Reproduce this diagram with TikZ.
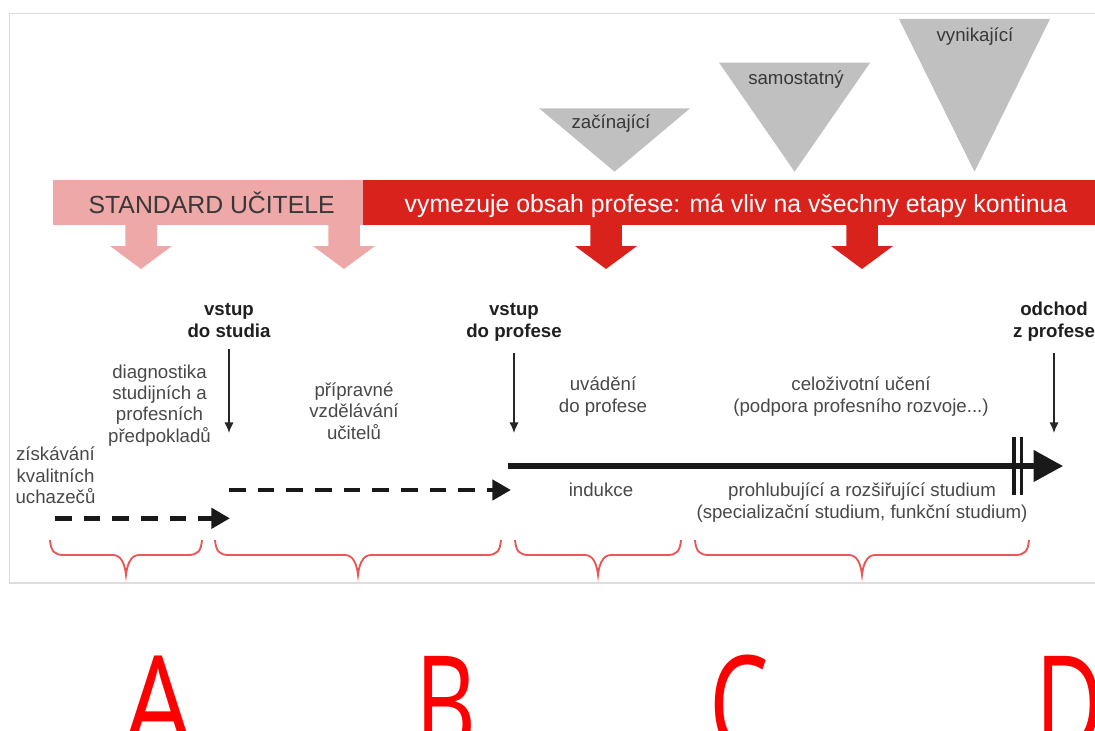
\documentclass[tikz,border=0pt]{standalone}
\usepackage{fontspec}
\setmainfont{Liberation Sans}
\newfontfamily\letterfont{Open Sans}
\usetikzlibrary{arrows.meta,positioning}

\definecolor{pinkbar}{RGB}{238,168,168}
\definecolor{redbar}{RGB}{218,34,29}
\definecolor{trigray}{RGB}{192,192,192}
\definecolor{txtgray}{RGB}{72,72,72}
\definecolor{bracered}{RGB}{232,88,88}
\definecolor{framegray}{RGB}{222,222,222}
\definecolor{lettered}{RGB}{255,0,0}

\begin{document}
\begin{tikzpicture}[
    x=0.75pt, y=-0.75pt,
    lbl/.style={font=\fontsize{14}{16}\selectfont, text=txtgray, align=center, inner sep=0pt, anchor=base},
    milestone/.style={font=\fontsize{14}{16}\selectfont\bfseries, text=black!88, align=center, inner sep=0pt, anchor=base},
    lvl/.style={font=\fontsize{14}{16}\selectfont, text=black!78, inner sep=0pt, anchor=base},
    bartext/.style={font=\fontsize{18.6}{20}\selectfont, inner sep=0pt, anchor=base},
    letter/.style={font=\letterfont\fontsize{101}{101}\selectfont, text=lettered, inner sep=0pt, anchor=base},
    pointer/.style={-{Latex[length=8pt,width=7pt]}, line width=1.1pt, draw=black!85, shorten <=9pt},
    dasharrow/.style={-{Triangle[length=14pt,width=15pt]}, line width=3.6pt, draw=black!90, dash pattern=on 12.5pt off 9pt},
    mainarrow/.style={-{Triangle[length=22pt,width=23pt]}, line width=3.8pt, draw=black!90},
    brc/.style={draw=bracered, line width=1.4pt}
]
\useasboundingbox (0,0) rectangle (1095,731);

% frame
\draw[framegray, line width=1.2pt] (1100,13.5) -- (9.5,13.5) -- (9.5,583) -- (1100,583);

% standard bar
\fill[pinkbar] (53,180) rectangle (362.5,224.5);
\fill[redbar] (362.5,180) rectangle (1095,224.5);
\node[bartext, text=black!78] (std) at (211.7,213) {STANDARD UČITELE};
\node[bartext, text=white] (content) at (736,212.5) {vymezuje obsah profese: má vliv na všechny etapy kontinua};

\foreach \x/\c in {141/pinkbar, 344/pinkbar, 606/redbar, 862/redbar}
  \fill[\c] (\x-15.75,224) -- (\x+15.75,224) -- (\x+15.75,246) -- (\x+31,246)
    -- (\x,269) -- (\x-31,246) -- (\x-15.75,246) -- cycle;

% levels
\foreach \cx/\top in {614.6/108.3, 794.6/62.7, 974.5/19}
  \fill[trigray] (\cx-75.5,\top) -- (\cx+75.5,\top) -- (\cx,171.7) -- cycle;
\node[lvl] (zac) at (611,128.3) {začínající};
\node[lvl] (sam) at (796,85) {samostatný};
\node[lvl] (vyn) at (975,41.7) {vynikající};

% milestones
\node[milestone] (studia) at (229,337) {vstup\\do studia};
\node[milestone] (profese) at (514,337) {vstup\\do profese};
\node[milestone] (odchod) at (1054,337) {odchod\\z profese};

\coordinate (studiaTip) at (229,433);
\coordinate (profeseTip) at (514,433);
\coordinate (odchodTip) at (1054,433);
\draw[pointer] (studia.south) -- (studiaTip);
\draw[pointer] (profese.south) -- (profeseTip);
\draw[pointer] (odchod.south) -- (odchodTip);

% phases
\node[lbl] (ziskavani) at (55.5,503.5) {získávání\\kvalitních\\uchazečů};
\node[lbl] (diag) at (159.5,442) {diagnostika\\studijních a\\profesních\\předpokladů};
\node[lbl] (priprava) at (354,439) {přípravné\\vzdělávání\\učitelů};
\node[lbl] (uvadeni) at (603,412) {uvádění\\do profese};
\node[lbl] (celoziv) at (861,412) {celoživotní učení\\(podpora profesního rozvoje...)};
\node[lbl] (indukce) at (601,496) {indukce};
\node[lbl] (prohl) at (862,518) {prohlubující a rozšiřující studium\\(specializační studium, funkční studium)};

% timeline
\coordinate (recruit) at (55,518.3);
\coordinate (entryStudy) at (230,518.3);
\coordinate (prepStart) at (229,490);
\coordinate (entryProf) at (511,490);
\coordinate (careerStart) at (508,466);
\coordinate (careerEnd) at (1063,466);
\draw[dasharrow] (recruit) -- (entryStudy);
\draw[dasharrow] (prepStart) -- (entryProf);
\draw[mainarrow] (careerStart) -- (careerEnd);
\draw[line width=2.4pt, black!90] (1014,437) -- (1014,495) (1021.7,437) -- (1021.7,495);

% braces
\foreach \a/\b in {50/202, 215/501, 515/681, 695/1029}
  \draw[brc] (\a,540) .. controls (\a+1,551) and (\a+4,555) .. (\a+14,555)
    -- ({(\a+\b)/2-13},555) .. controls ({(\a+\b)/2-4},555) and ({(\a+\b)/2-1},566) .. ({(\a+\b)/2},575)
    .. controls ({(\a+\b)/2+1},566) and ({(\a+\b)/2+4},555) .. ({(\a+\b)/2+13},555)
    -- (\b-14,555) .. controls (\b-4,555) and (\b-1,551) .. (\b,540);

% letters
\node[letter] (lA) at (158,752) {\scalebox{0.82}[1]{A}};
\node[letter] (lB) at (446,752) {\scalebox{0.7}[1]{B}};
\node[letter] (lC) at (739,752) {\scalebox{0.7}[1]{C}};
\node[letter] (lD) at (1070,752) {\scalebox{0.7}[1]{D}};

\end{tikzpicture}
\end{document}
